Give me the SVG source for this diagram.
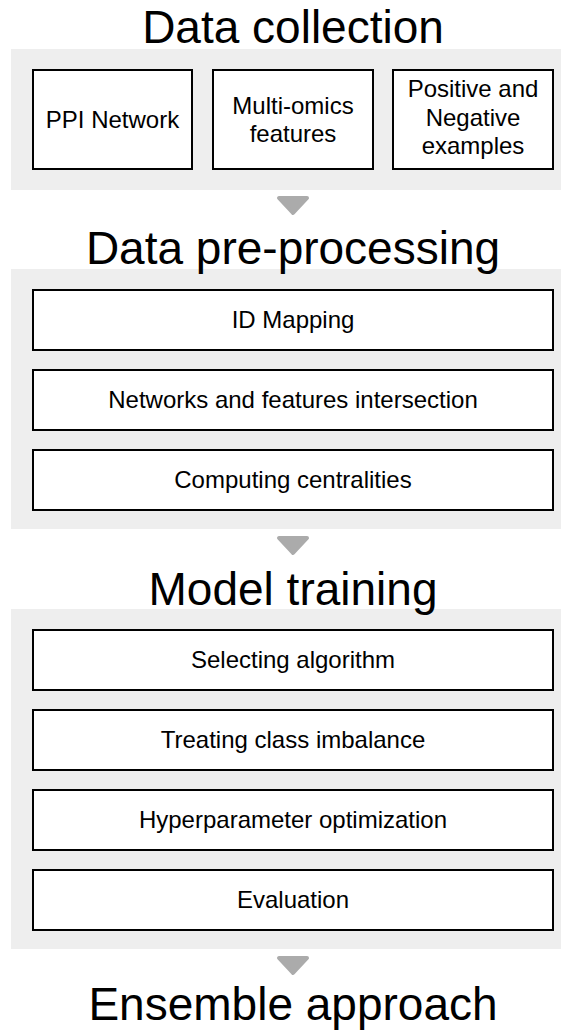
<svg xmlns="http://www.w3.org/2000/svg" width="561" height="1030" viewBox="0 0 561 1030">
  <style>
    .panel { fill: #eeeeee; stroke: none; }
    .box { fill: #ffffff; stroke: #000000; stroke-width: 2; }
    .title { font-family: "Liberation Sans", Arial, sans-serif; font-size: 46px; fill: #000000; text-anchor: middle; }
    .label { font-family: "Liberation Sans", Arial, sans-serif; font-size: 24px; fill: #000000; text-anchor: middle; }
    .step { fill: #ababab; stroke: #ababab; stroke-width: 4; stroke-linejoin: round; }
  </style>

  <!-- Stage 1: data collection -->
  <g id="stage-collection">
    <rect class="panel" x="11" y="49" width="564" height="141"/>
    <text class="title" x="293" y="43">Data collection</text>
  </g>
  <g id="node-ppi">
    <rect class="box" x="33" y="70" width="159" height="99"/>
    <text class="label" x="112.5" y="127.5">PPI Network</text>
  </g>
  <g id="node-omics">
    <rect class="box" x="213" y="70" width="160" height="99"/>
    <text class="label" x="293" y="113.5">Multi-omics</text>
    <text class="label" x="293" y="141.5">features</text>
  </g>
  <g id="node-examples">
    <rect class="box" x="393" y="70" width="160" height="99"/>
    <text class="label" x="473" y="97">Positive and</text>
    <text class="label" x="473" y="125.5">Negative</text>
    <text class="label" x="473" y="154">examples</text>
  </g>

  <!-- Stage 2: data pre-processing -->
  <g id="stage-preprocessing">
    <rect class="panel" x="11" y="269" width="564" height="260"/>
    <text class="title" x="293" y="264">Data pre-processing</text>
  </g>
  <g id="node-idmapping">
    <rect class="box" x="33" y="290" width="520" height="60"/>
    <text class="label" x="293" y="328">ID Mapping</text>
  </g>
  <g id="node-intersection">
    <rect class="box" x="33" y="370" width="520" height="60"/>
    <text class="label" x="293" y="408">Networks and features intersection</text>
  </g>
  <g id="node-centralities">
    <rect class="box" x="33" y="450" width="520" height="60"/>
    <text class="label" x="293" y="488">Computing centralities</text>
  </g>

  <!-- Stage 3: model training -->
  <g id="stage-training">
    <rect class="panel" x="11" y="609" width="564" height="340"/>
    <text class="title" x="293" y="605">Model training</text>
  </g>
  <g id="node-algorithm">
    <rect class="box" x="33" y="630" width="520" height="60"/>
    <text class="label" x="293" y="668">Selecting algorithm</text>
  </g>
  <g id="node-imbalance">
    <rect class="box" x="33" y="710" width="520" height="60"/>
    <text class="label" x="293" y="748">Treating class imbalance</text>
  </g>
  <g id="node-hyperparameter">
    <rect class="box" x="33" y="790" width="520" height="60"/>
    <text class="label" x="293" y="828">Hyperparameter optimization</text>
  </g>
  <g id="node-evaluation">
    <rect class="box" x="33" y="870" width="520" height="60"/>
    <text class="label" x="293" y="908">Evaluation</text>
  </g>

  <!-- Stage 4: ensemble -->
  <g id="stage-ensemble">
    <text class="title" x="293" y="1020">Ensemble approach</text>
  </g>

  <!-- Step arrows between stages -->
  <g id="connectors">
    <polygon class="step" points="279,198 307,198 293,213"/>
    <polygon class="step" points="279,538 307,538 293,553"/>
    <polygon class="step" points="279,958 307,958 293,973"/>
  </g>
</svg>
